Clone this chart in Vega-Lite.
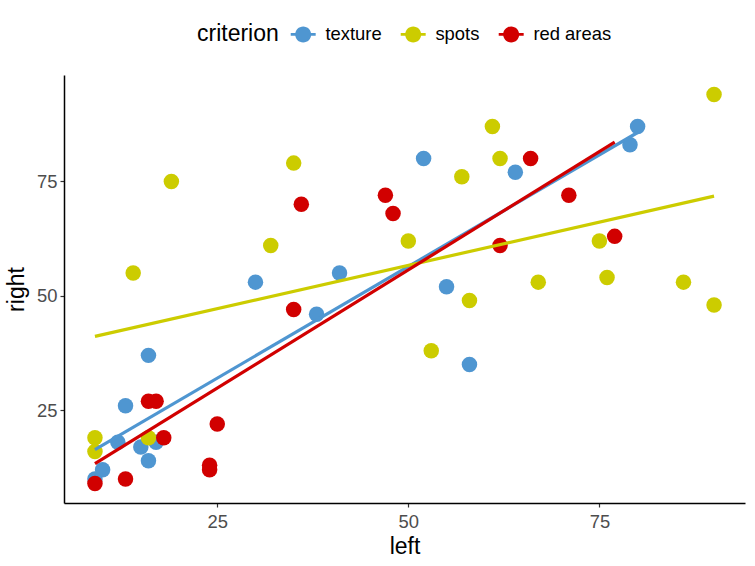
{
  "$schema": "https://vega.github.io/schema/vega-lite/v6.json",
  "width": 681,
  "height": 428,
  "autosize": {"type": "none"},
  "padding": {"left": 64, "top": 75, "right": 10, "bottom": 63},
  "background": "white",
  "config": {
    "view": {"stroke": null},
    "font": "Liberation Sans",
    "axis": {
      "grid": false,
      "domainColor": "black",
      "domainWidth": 1.5,
      "tickColor": "#333333",
      "tickSize": 4,
      "tickWidth": 1.2,
      "labelColor": "#4D4D4D",
      "labelFontSize": 18.4,
      "labelPadding": 3,
      "labelFont": "Liberation Sans",
      "titleFont": "Liberation Sans",
      "titleFontSize": 23,
      "titleFontWeight": "normal",
      "titleColor": "black"
    },
    "legend": {
      "titleFont": "Liberation Sans",
      "labelFont": "Liberation Sans"
    }
  },
  "data": {
    "values": [
      {"criterion": "texture", "left": 9, "right": 10},
      {"criterion": "texture", "left": 10, "right": 12},
      {"criterion": "texture", "left": 13, "right": 26},
      {"criterion": "texture", "left": 16, "right": 37},
      {"criterion": "texture", "left": 12, "right": 18},
      {"criterion": "texture", "left": 15, "right": 17},
      {"criterion": "texture", "left": 16, "right": 14},
      {"criterion": "texture", "left": 17, "right": 18},
      {"criterion": "texture", "left": 30, "right": 53},
      {"criterion": "texture", "left": 38, "right": 46},
      {"criterion": "texture", "left": 41, "right": 55},
      {"criterion": "texture", "left": 52, "right": 80},
      {"criterion": "texture", "left": 55, "right": 52},
      {"criterion": "texture", "left": 58, "right": 35},
      {"criterion": "texture", "left": 64, "right": 77},
      {"criterion": "texture", "left": 79, "right": 83},
      {"criterion": "texture", "left": 80, "right": 87},
      {"criterion": "spots", "left": 9, "right": 19},
      {"criterion": "spots", "left": 9, "right": 16},
      {"criterion": "spots", "left": 16, "right": 19},
      {"criterion": "spots", "left": 14, "right": 55},
      {"criterion": "spots", "left": 19, "right": 75},
      {"criterion": "spots", "left": 32, "right": 61},
      {"criterion": "spots", "left": 35, "right": 79},
      {"criterion": "spots", "left": 50, "right": 62},
      {"criterion": "spots", "left": 53, "right": 38},
      {"criterion": "spots", "left": 57, "right": 76},
      {"criterion": "spots", "left": 58, "right": 49},
      {"criterion": "spots", "left": 61, "right": 87},
      {"criterion": "spots", "left": 62, "right": 80},
      {"criterion": "spots", "left": 67, "right": 53},
      {"criterion": "spots", "left": 75, "right": 62},
      {"criterion": "spots", "left": 76, "right": 54},
      {"criterion": "spots", "left": 86, "right": 53},
      {"criterion": "spots", "left": 90, "right": 94},
      {"criterion": "spots", "left": 90, "right": 48},
      {"criterion": "red areas", "left": 9, "right": 9},
      {"criterion": "red areas", "left": 13, "right": 10},
      {"criterion": "red areas", "left": 16, "right": 27},
      {"criterion": "red areas", "left": 17, "right": 27},
      {"criterion": "red areas", "left": 18, "right": 19},
      {"criterion": "red areas", "left": 25, "right": 22},
      {"criterion": "red areas", "left": 24, "right": 13},
      {"criterion": "red areas", "left": 24, "right": 12},
      {"criterion": "red areas", "left": 35, "right": 47},
      {"criterion": "red areas", "left": 36, "right": 70},
      {"criterion": "red areas", "left": 47, "right": 72},
      {"criterion": "red areas", "left": 48, "right": 68},
      {"criterion": "red areas", "left": 62, "right": 61},
      {"criterion": "red areas", "left": 66, "right": 80},
      {"criterion": "red areas", "left": 71, "right": 72},
      {"criterion": "red areas", "left": 77, "right": 63}
    ]
  },
  "encoding": {
    "x": {
      "field": "left",
      "type": "quantitative",
      "scale": {"domain": [4.95, 94.05], "nice": false, "zero": false},
      "axis": {"values": [25, 50, 75], "title": "left", "titlePadding": 5, "labelPadding": 5}
    },
    "y": {
      "field": "right",
      "type": "quantitative",
      "scale": {"domain": [4.75, 98.25], "nice": false, "zero": false},
      "axis": {"values": [25, 50, 75], "title": "right", "titlePadding": 8}
    },
    "color": {
      "field": "criterion",
      "type": "nominal",
      "scale": {
        "domain": ["texture", "spots", "red areas"],
        "range": ["#4F96D1", "#CCCC00", "#D10000"]
      },
      "legend": {
        "orient": "none",
        "legendX": 133,
        "legendY": -50,
        "direction": "horizontal",
        "title": "criterion",
        "titleOrient": "left",
        "titleFontSize": 23,
        "titleFontWeight": "normal",
        "titleColor": "black",
        "titlePadding": 15,
        "labelFontSize": 18.4,
        "labelColor": "black",
        "labelOffset": 13,
        "symbolType": "M -1 0 A 1 1 0 1 1 1 0 A 1 1 0 1 1 -1 0 Z M -1.56 -0.16 L 1.56 -0.16 L 1.56 0.16 L -1.56 0.16 Z",
        "symbolSize": 256,
        "symbolStrokeWidth": 0,
        "symbolOpacity": 1,
        "columnPadding": 18
      }
    }
  },
  "layer": [
    {
      "mark": {"type": "point", "shape": "circle", "filled": true, "size": 240, "opacity": 1}
    },
    {
      "transform": [
        {"regression": "right", "on": "left", "groupby": ["criterion"]}
      ],
      "mark": {"type": "line", "strokeWidth": 3.2}
    }
  ]
}
